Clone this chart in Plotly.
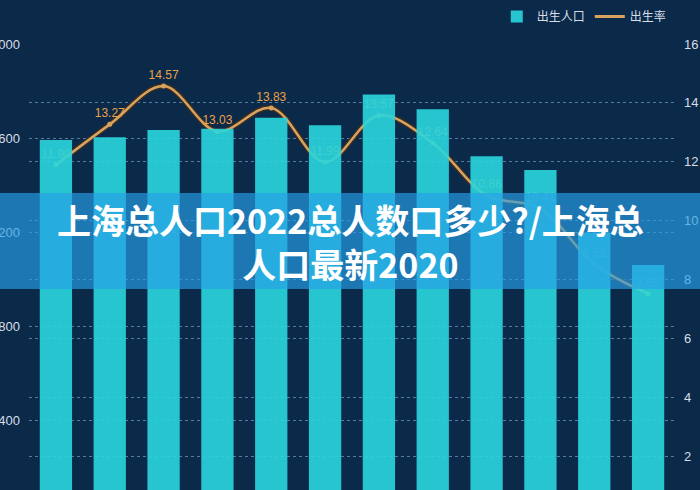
import plotly.graph_objects as go

years = ["2010", "2011", "2012", "2013", "2014", "2015", "2016", "2017", "2018", "2019", "2020", "2021"]
births = [1592, 1604, 1635, 1640, 1687, 1655, 1786, 1723, 1523, 1465, 1200, 1062]
rates = [11.90, 13.27, 14.57, 13.03, 13.83, 11.99, 13.57, 12.64, 10.86, 10.41, 8.52, 7.52]
left_ticks = [400, 800, 1200, 1600, 2000]
right_ticks = [2, 4, 6, 8, 10, 12, 14, 16]
title_lines = ["上海总人口2022总人数口多少?/上海总", "人口最新2020"]

BG = "#0b2a4a"
BAR = "#2ad6de"
LINE = "#d8a35e"
GRID = "rgba(150,190,235,0.55)"
TICK = "#d5dde6"

fig = go.Figure()

# line (birth rate) on main y axis (right side), drawn beneath the bars
fig.add_trace(go.Scatter(
    x=years, y=rates, yaxis="y", mode="lines",
    line=dict(color="rgba(70,45,25,0.75)", width=5.5, shape="spline"),
    hoverinfo="skip", showlegend=False,
))
fig.add_trace(go.Scatter(
    x=years, y=rates, yaxis="y", mode="lines+markers+text",
    line=dict(color=LINE, width=2.5, shape="spline"),
    marker=dict(size=5, color=LINE),
    text=[f"{v:.2f}" for v in rates], textposition="top center",
    textfont=dict(color="#e9a246", size=12, family="Liberation Sans"),
    name="出生率", showlegend=False,
))
# bars (births) on overlaying axis (left side)
fig.add_trace(go.Bar(
    x=years, y=births, yaxis="y2", marker=dict(color=BAR, line=dict(width=0)),
    opacity=0.9, name="出生人口", showlegend=True,
))
# legend entry for line
fig.add_trace(go.Scatter(
    x=[None], y=[None], yaxis="y", mode="lines",
    line=dict(color=LINE, width=3), name="出生率", showlegend=True,
))

plot_h = 490 - 44
fig.update_layout(
    width=700, height=490,
    margin=dict(l=29, r=25, t=44, b=0),
    paper_bgcolor=BG, plot_bgcolor=BG,
    bargap=0.4,
    font=dict(family="Noto Sans CJK SC", color=TICK),
    xaxis=dict(range=[-0.5, 11.5], showticklabels=False, showgrid=False,
               zeroline=False, showline=False, ticks=""),
    yaxis=dict(side="right", range=[0.85, 16], tickvals=right_ticks,
               showgrid=True, gridcolor=GRID, griddash="dot", gridwidth=1,
               zeroline=False, showline=False, automargin=False,
               tickfont=dict(size=13, color=TICK, family="Liberation Sans"), ticklabelstandoff=8),
    yaxis2=dict(overlaying="y", side="left", range=[106, 2000], tickvals=left_ticks,
                showgrid=True, gridcolor=GRID, griddash="dot", gridwidth=1,
                zeroline=False, showline=False, automargin=False,
                tickfont=dict(size=13, color=TICK, family="Liberation Sans"), ticklabelstandoff=8),
    legend=dict(orientation="h", x=0.995, xanchor="right", y=(490 - 2) / plot_h, yanchor="top",
                font=dict(size=12, color=TICK), bgcolor="rgba(0,0,0,0)",
                itemwidth=30, traceorder="normal"),
    shapes=[dict(type="rect", xref="paper", yref="paper",
                 x0=-0.1, x1=1.1, y0=(490 - 289) / plot_h, y1=(490 - 193) / plot_h,
                 fillcolor="rgba(40,160,232,0.66)", line=dict(width=0), layer="above")],
    annotations=[dict(xref="paper", yref="paper", x=(350 - 29) / 646, y=(490 - 242) / plot_h,
                      xanchor="center", yanchor="middle", showarrow=False,
                      text="<b>" + "<br>".join(title_lines) + "</b>",
                      font=dict(size=34, color="white", family="Noto Sans CJK SC"))],
)

fig.write_html("out.html", config={"displayModeBar": False},
               post_script="document.body.style.margin='0';document.body.style.overflow='hidden';")
